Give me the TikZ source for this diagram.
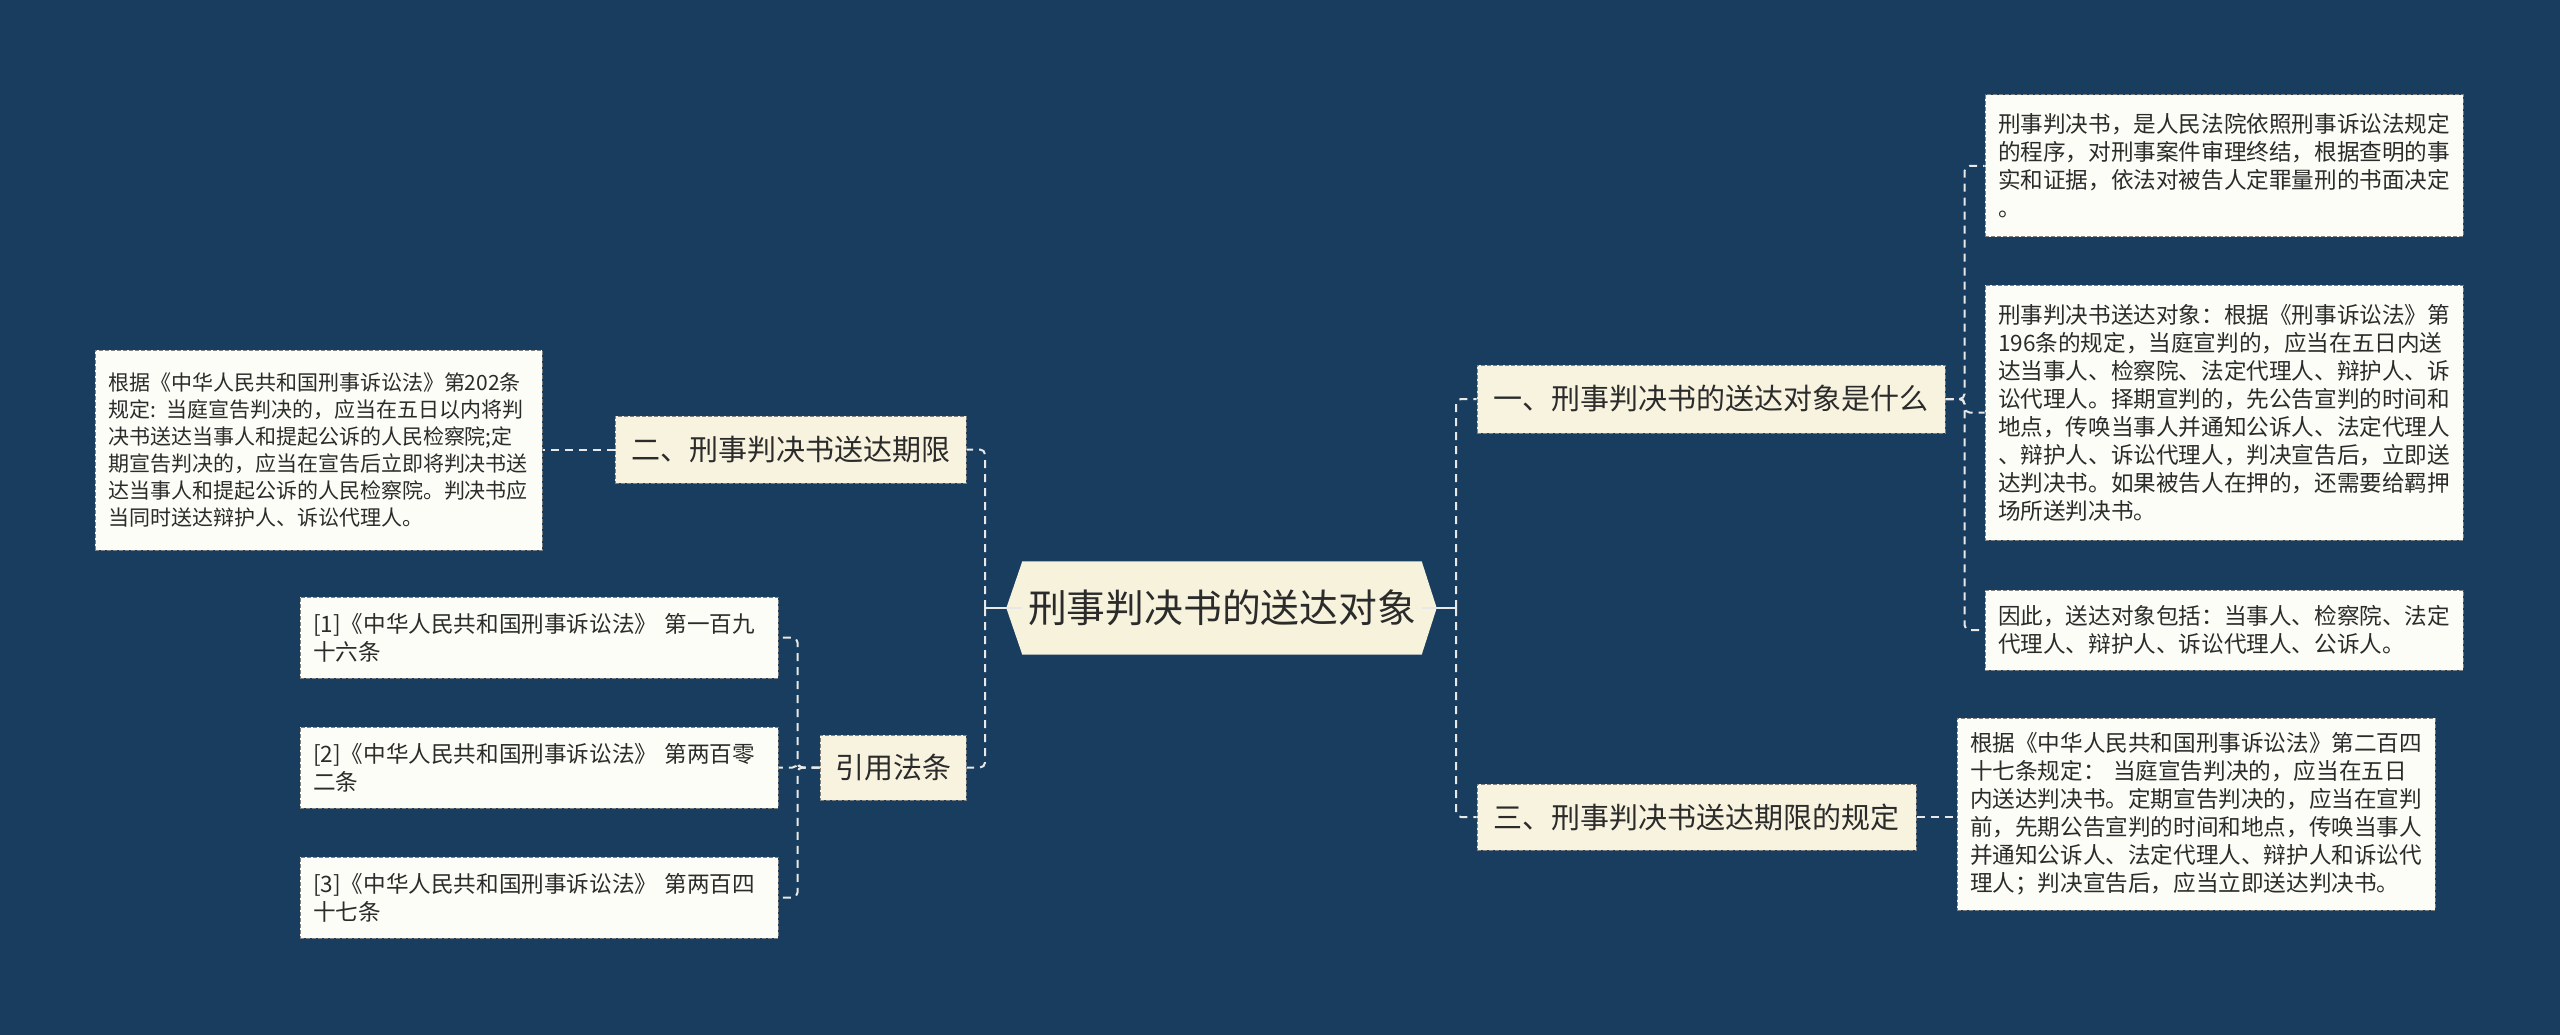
\documentclass[tikz,border=0pt]{standalone}
\usepackage{fontspec}
\setmainfont{Noto Sans CJK SC}
\usetikzlibrary{backgrounds}
\definecolor{bgblue}{HTML}{183D5E}
\definecolor{hexfill}{HTML}{F7F2DC}
\definecolor{midfill}{HTML}{F8F3DF}
\definecolor{leaffill}{HTML}{FDFDF7}
\definecolor{bordergray}{HTML}{808080}
\definecolor{linec}{HTML}{E8E8E8}
\definecolor{textc}{HTML}{2B2B2B}
\begin{document}
\begin{tikzpicture}[x=1pt,y=-1pt,
  midbox/.style={draw=bordergray, dash pattern=on 4pt off 2pt, line width=1pt, fill=midfill,
    inner sep=0pt, text=textc, font=\fontsize{29}{34}\selectfont},
  leafbox/.style={draw=bordergray, dash pattern=on 4pt off 2pt, line width=1pt, fill=leaffill,
    inner xsep=13pt, inner ysep=0pt, align=left, text=textc},
  conn/.style={draw=linec, line width=2pt, dash pattern=on 8pt off 6pt, rounded corners=5pt},
  stub/.style={draw=linec, line width=2pt}
]
\begin{pgfonlayer}{background}
\fill[bgblue] (0,0) rectangle (2560,1035);
\end{pgfonlayer}
\useasboundingbox (0,0) rectangle (2560,1035);

% central node
\node[inner sep=0pt, minimum width=399, minimum height=93, text=textc,
  font=\fontsize{38.8}{44}\selectfont] (c) at (1222,608) {刑事判决书的送达对象};
\begin{pgfonlayer}{background}
\fill[hexfill] (c.north west) -- (c.north east) -- ([xshift=15pt]c.east) -- (c.south east)
  -- (c.south west) -- ([xshift=-16pt]c.west) -- cycle;
\end{pgfonlayer}
\coordinate (rt) at (1456,608);
\coordinate (lt) at (985,608);

% level-1 nodes
\node[midbox, minimum width=468, minimum height=68] (n1) at (1711,399) {一、刑事判决书的送达对象是什么};
\node[midbox, minimum width=439, minimum height=66] (n3) at (1696.5,817) {三、刑事判决书送达期限的规定};
\node[midbox, minimum width=351, minimum height=67] (n2) at (790.5,449.5) {二、刑事判决书送达期限};
\node[midbox, minimum width=146, minimum height=65] (n4) at (893,767.5) {引用法条};

% right leaves
\node[leafbox, minimum width=478, minimum height=142, text width=452,
  font=\fontsize{22.6}{28}\selectfont] (l1) at (2224,166)
  {刑事判决书，是人民法院依照刑事诉讼法规定\\的程序，对刑事案件审理终结，根据查明的事\\实和证据，依法对被告人定罪量刑的书面决定\\。};
\node[leafbox, minimum width=478, minimum height=255, text width=452,
  font=\fontsize{22.6}{28}\selectfont] (l2) at (2224,412.5)
  {刑事判决书送达对象：根据《刑事诉讼法》第\\196条的规定，当庭宣判的，应当在五日内送\\达当事人、检察院、法定代理人、辩护人、诉\\讼代理人。择期宣判的，先公告宣判的时间和\\地点，传唤当事人并通知公诉人、法定代理人\\、辩护人、诉讼代理人，判决宣告后，立即送\\达判决书。如果被告人在押的，还需要给羁押\\场所送判决书。};
\node[leafbox, minimum width=478, minimum height=80, text width=452,
  font=\fontsize{22.6}{28}\selectfont] (l3) at (2224,630)
  {因此，送达对象包括：当事人、检察院、法定\\代理人、辩护人、诉讼代理人、公诉人。};
\node[leafbox, minimum width=478, minimum height=192, text width=452,
  font=\fontsize{22.6}{28}\selectfont] (l4) at (2196,814)
  {根据《中华人民共和国刑事诉讼法》第二百四\\十七条规定： 当庭宣告判决的，应当在五日\\内送达判决书。定期宣告判决的，应当在宣判\\前，先期公告宣判的时间和地点，传唤当事人\\并通知公诉人、法定代理人、辩护人和诉讼代\\理人；判决宣告后，应当立即送达判决书。};

% left leaves
\node[leafbox, minimum width=447, minimum height=200, text width=421,
  font=\fontsize{21}{27}\selectfont] (ll) at (318.5,450)
  {根据《中华人民共和国刑事诉讼法》第202条\\规定: 当庭宣告判决的，应当在五日以内将判\\决书送达当事人和提起公诉的人民检察院;定\\期宣告判决的，应当在宣告后立即将判决书送\\达当事人和提起公诉的人民检察院。判决书应\\当同时送达辩护人、诉讼代理人。};
\node[leafbox, minimum width=478, minimum height=81, text width=452,
  font=\fontsize{22.6}{28}\selectfont] (r1) at (539,637.5)
  {[1]《中华人民共和国刑事诉讼法》 第一百九\\十六条};
\node[leafbox, minimum width=478, minimum height=81, text width=452,
  font=\fontsize{22.6}{28}\selectfont] (r2) at (539,767.5)
  {[2]《中华人民共和国刑事诉讼法》 第两百零\\二条};
\node[leafbox, minimum width=478, minimum height=81, text width=452,
  font=\fontsize{22.6}{28}\selectfont] (r3) at (539,897.5)
  {[3]《中华人民共和国刑事诉讼法》 第两百四\\十七条};

% connectors
\draw[stub] (c.east) -- (rt);
\draw[stub] (c.west) -- (lt);
\draw[conn] (rt) |- (n1.west);
\draw[conn] (rt) |- (n3.west);
\draw[conn] (lt) |- (n2.east);
\draw[conn] (lt) |- (n4.east);
\draw[conn] (n1.east) -- ++(19,0) |- (l1.west);
\draw[conn] (n1.east) -- ++(19,0) |- (l2.west);
\draw[conn] (n1.east) -- ++(19,0) |- (l3.west);
\draw[conn] (n3.east) -- (n3.east -| l4.west);
\draw[conn] (n2.west) -- (n2.west -| ll.east);
\draw[conn] (n4.west) -- ++(-22,0) |- (r1.east);
\draw[conn] (n4.west) -- ++(-22,0) |- (r2.east);
\draw[conn] (n4.west) -- ++(-22,0) |- (r3.east);
\end{tikzpicture}
\end{document}
